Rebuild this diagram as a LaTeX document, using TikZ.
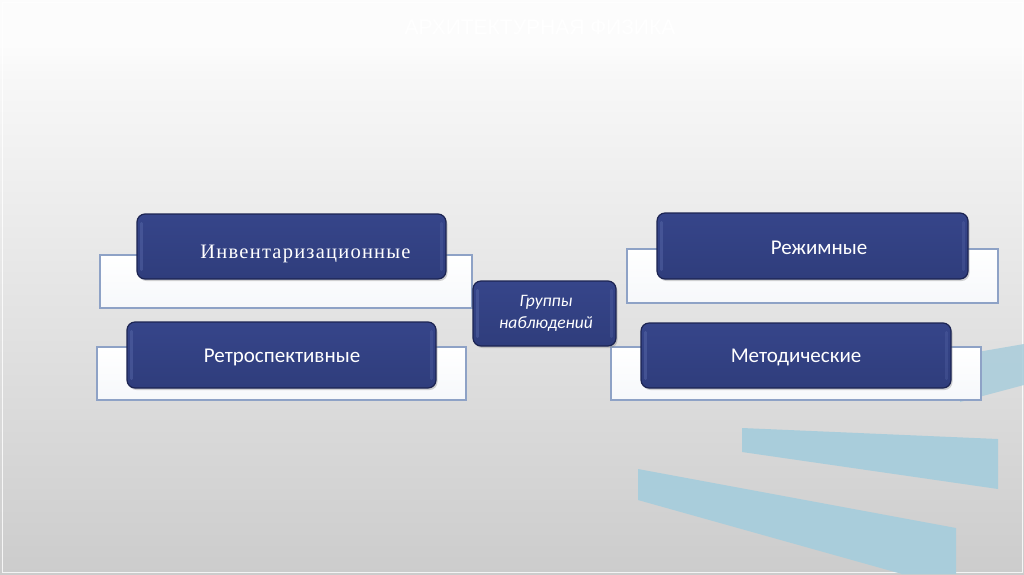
\documentclass[tikz,border=0pt]{standalone}
\usepackage{fontspec}
\setmainfont{Carlito}
\newfontfamily\serifru[LetterSpace=6]{Liberation Serif}
\newfontfamily\titlefont{Liberation Sans}
\usetikzlibrary{shadows}
\definecolor{navy}{HTML}{2F3D7C}
\definecolor{navytop}{HTML}{36458A}
\definecolor{navyedge}{HTML}{1C2452}
\definecolor{bevel}{HTML}{5A6AAA}
\definecolor{framecol}{HTML}{8EA2C6}
\definecolor{paleblue}{HTML}{A9CDDB}
\definecolor{boxfill}{HTML}{F6F8FB}
\tikzset{
  whitebox/.style={draw=framecol, line width=1.3pt, top color=white, bottom color=boxfill, inner sep=0pt},
  darkbox/.style={draw=navyedge, line width=1.2pt, rounded corners=8pt, top color=navytop, bottom color=navy, inner sep=0pt,
     drop shadow={shadow xshift=1.5pt, shadow yshift=-2pt, opacity=0.35}},
  bevelline/.style={draw=bevel, line width=3pt, line cap=round, opacity=0.45},
  boxtext/.style={text=white, font=\fontsize{21}{24}\selectfont, anchor=base, inner sep=0pt},
  stripe/.style={fill=paleblue, draw=none}
}
\begin{document}
\begin{tikzpicture}[x=1pt,y=-1pt]
\useasboundingbox (0,0) rectangle (1024,574);
% background
\fill[white!99!black] (0,0) rectangle (1024,574);
\shade[top color=white!99!black, bottom color=white!97!black] (0,40) rectangle (1024,80);
\shade[top color=white!97!black, bottom color=white!80!black] (0,79.5) rectangle (1024,574);
\draw[white, line width=0.8pt, opacity=0.8] (2,2) rectangle (1022,572);
% title
\node[text=white, font=\titlefont\fontsize{21}{24}\selectfont, anchor=base, inner sep=0pt] (title) at (540,34) {АРХИТЕКТУРНАЯ ФИЗИКА};
% decorative stripes
\fill[stripe] (742,428) -- (998,439) -- (998,489) -- (742,452) -- cycle;
\fill[stripe] (638,469) -- (956,528) -- (956,574) -- (902,574) -- (638,500) -- cycle;
\fill[stripe, opacity=0.85] (960,355) -- (1024,344) -- (1024,385) -- (960,402) -- cycle;
% white back boxes
\node[whitebox, minimum width=372, minimum height=53] (invbg) at (286,281.5) {};
\node[whitebox, minimum width=369, minimum height=53] (retbg) at (281.5,373.5) {};
\node[whitebox, minimum width=371, minimum height=54] (rezbg) at (812.5,276) {};
\node[whitebox, minimum width=370, minimum height=53] (metbg) at (796,373.5) {};
% dark boxes
\node[darkbox, minimum width=309, minimum height=65] (inv) at (291.5,246.5) {};
\node[darkbox, minimum width=309, minimum height=66] (ret) at (281.5,355) {};
\node[darkbox, minimum width=143, minimum height=65] (grp) at (544.5,313.5) {};
\node[darkbox, minimum width=311, minimum height=66] (rez) at (812.5,246) {};
\node[darkbox, minimum width=310, minimum height=65] (met) at (796,355.5) {};
% bevel highlights
\foreach \b in {inv,ret,grp,rez,met}{
  \draw[bevelline] ([xshift=5pt,yshift=-10pt]\b.north west) -- ([xshift=5pt,yshift=10pt]\b.south west);
  \draw[bevelline, opacity=0.3] ([xshift=-5pt,yshift=-10pt]\b.north east) -- ([xshift=-5pt,yshift=10pt]\b.south east);
}
% texts
\node[boxtext, font=\serifru\fontsize{20.5}{24}\selectfont] (invt) at (305.5,258) {Инвентаризационные};
\node[boxtext] (rett) at (282,362) {Ретроспективные};
\node[boxtext] (rezt) at (819,254) {Режимные};
\node[boxtext] (mett) at (796,362) {Методические};
\node[text=white, font=\itshape\fontsize{17.5}{22}\selectfont, align=center, inner sep=0pt] (grpt) at (546,313) {Группы\\наблюдений};
\end{tikzpicture}
\end{document}
